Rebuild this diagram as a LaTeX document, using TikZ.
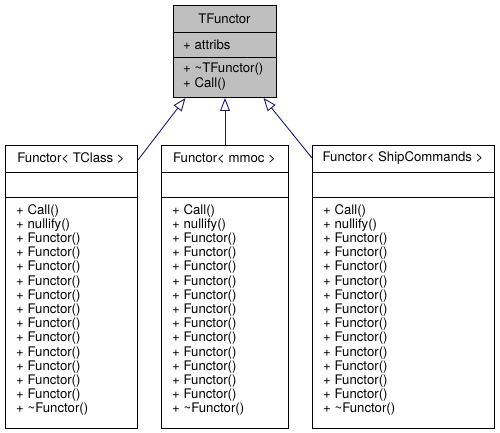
\documentclass[tikz,border=0pt]{standalone}
\usepackage{fontspec}
\setmainfont{TeX Gyre Heros}
\usetikzlibrary{arrows.meta}
\definecolor{basegray}{HTML}{BFBFBF}
\definecolor{edgeblue}{HTML}{191970}

\newcommand{\functorops}{+ Call()\\ + nullify()\\
    + Functor()\\ + Functor()\\ + Functor()\\ + Functor()\\
    + Functor()\\ + Functor()\\ + Functor()\\ + Functor()\\
    + Functor()\\ + Functor()\\ + Functor()\\ + Functor()\\
    + \textasciitilde Functor()}

\begin{document}
\begin{tikzpicture}[x=1pt, y=-1pt, font=\fontsize{13.2}{14.2}\selectfont,
    cls/.style = {draw, line width=1pt, inner sep=0pt, anchor=north west},
    member/.style = {anchor=north west, align=left, inner sep=0pt},
    inherit/.style = {draw=edgeblue, line width=0.9pt, -{Triangle[open, length=13pt, width=10pt]}}]
    \useasboundingbox (0,0) rectangle (500,433);

    % base class
    \node[cls, fill=basegray, minimum width=103pt, minimum height=92pt] (tfunctor) at (173,5) {};
    \draw ([yshift=-27pt]tfunctor.north west) -- ([yshift=-27pt]tfunctor.north east);
    \draw ([yshift=-52pt]tfunctor.north west) -- ([yshift=-52pt]tfunctor.north east);
    \node (tfunctor title) at (224.5,18.5) {TFunctor};
    \node[member, anchor=west] (tfunctor attr) at (183,44.5) {+ attribs};
    \node[member] (tfunctor ops) at (183,63) {+ \textasciitilde TFunctor()\\ + Call()};

    % derived classes
    \node[cls, minimum width=132pt, minimum height=283pt] (tclass) at (5,145) {};
    \node[cls, minimum width=127pt, minimum height=283pt] (mmoc) at (161,145) {};
    \node[cls, minimum width=182pt, minimum height=283pt] (shipcmd) at (312,145) {};

    \foreach \c in {tclass, mmoc, shipcmd} {
        \draw ([yshift=-27pt]\c.north west) -- ([yshift=-27pt]\c.north east);
        \draw ([yshift=-52pt]\c.north west) -- ([yshift=-52pt]\c.north east);
    }

    \node (tclass title) at (71,158.5) {Functor< TClass >};
    \node (mmoc title) at (224.5,158.5) {Functor< mmoc >};
    \node (shipcmd title) at (403,158.5) {Functor< ShipCommands >};

    \node[member] (tclass ops) at (16,204) {\functorops};
    \node[member] (mmoc ops) at (172,204) {\functorops};
    \node[member] (shipcmd ops) at (323,204) {\functorops};

    \draw[inherit] ([yshift=-15pt]tclass.north east) -- ([xshift=-39.5pt]tfunctor.south);
    \draw[inherit] (mmoc.north) -- (tfunctor.south);
    \draw[inherit] ([yshift=-13pt]shipcmd.north west) -- ([xshift=38.5pt]tfunctor.south);
\end{tikzpicture}
\end{document}
